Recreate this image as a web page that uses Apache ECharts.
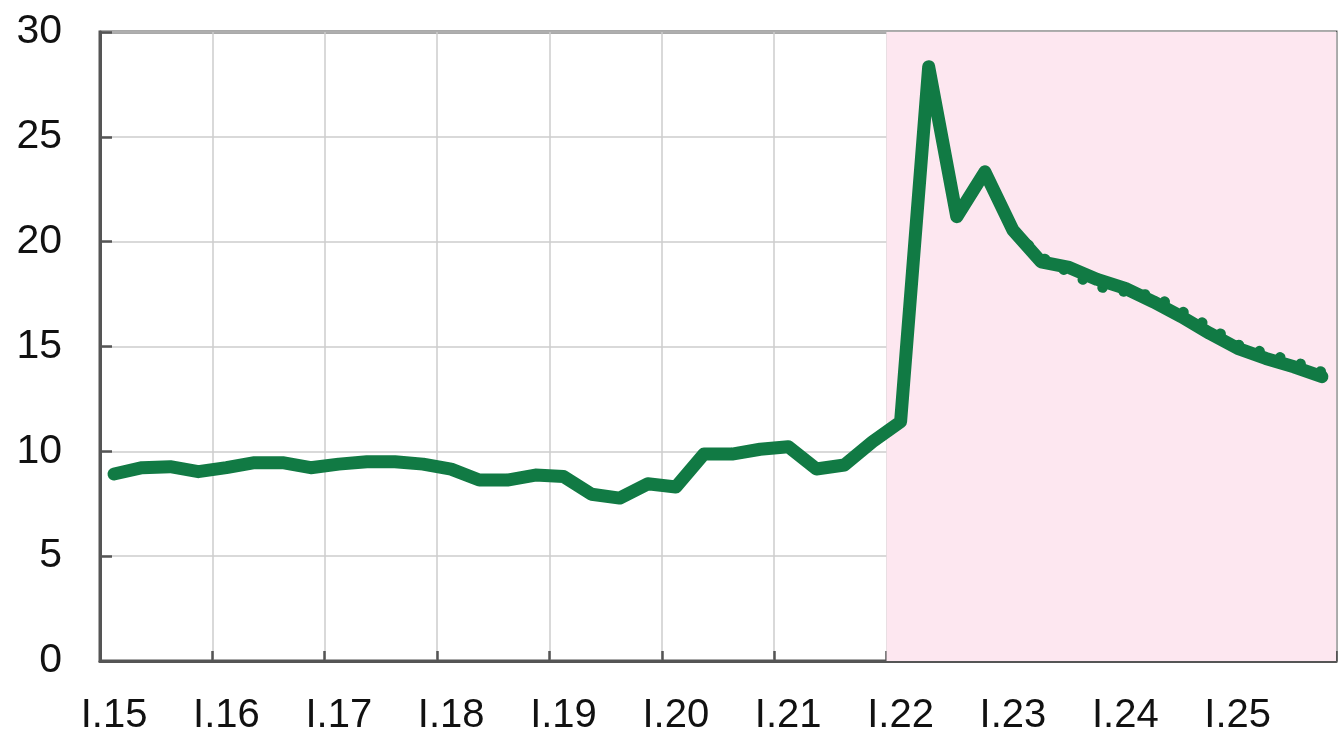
<!DOCTYPE html>
<html>
<head>
<meta charset="utf-8">
<script src="https://cdn.jsdelivr.net/npm/echarts@6/dist/echarts.min.js"></script>
<style>
html,body{margin:0;padding:0;background:#fff;}
#chart{width:1342px;height:733px;}
</style>
</head>
<body>
<div id="chart"></div>
<script>
// Quarterly categories (Roman numeral quarter . two-digit year)
const years = ['15','16','17','18','19','20','21','22','23','24','25'];
const quarters = ['I','II','III','IV'];
const categories = [];
years.forEach(y => quarters.forEach(q => categories.push(q + '.' + y)));

// Main series (solid line)
const actual = [
  8.92, 9.22, 9.27, 9.03,
  9.22, 9.46, 9.46, 9.22,
  9.39, 9.50, 9.50, 9.39,
  9.15, 8.63, 8.63, 8.87,
  8.80, 7.95, 7.77, 8.45,
  8.30, 9.87, 9.87, 10.10,
  10.22, 9.16, 9.35, 10.46,
  11.41, 28.34, 21.19, 23.33,
  20.55, 19.04, 18.77, 18.20,
  17.77, 17.13, 16.42, 15.63,
  14.91, 14.43, 14.03, 13.56
];

// Earlier projection (dotted line), from I.23 onward
const projection = [
  null, null, null, null,
  null, null, null, null,
  null, null, null, null,
  null, null, null, null,
  null, null, null, null,
  null, null, null, null,
  null, null, null, null,
  null, null, null, null,
  20.55, 19.30, 18.50, 17.85,
  17.60, 17.45, 16.70, 15.95,
  15.10, 14.70, 14.30, 13.80
];

// Shaded period: from the start of I.22 to the end of the axis (in quarter units)
const shadeFrom = 28;
const shadeTo = 44;

const yTicks = { min: 0, max: 30, interval: 5 };

const green = '#117a44';
const axisColor = '#555555';
const gridColor = '#cdcdcd';
const fontFamily = '"Liberation Sans", Arial, sans-serif';

const chart = echarts.init(document.getElementById('chart'), null, { renderer: 'canvas' });

chart.setOption({
  animation: false,
  backgroundColor: '#ffffff',
  grid: {
    left: 100, right: 6, top: 32, bottom: 72,
    containLabel: false, outerBoundsMode: 'none',
    show: true, borderColor: axisColor, borderWidth: 3, backgroundColor: 'transparent'
  },
  xAxis: [
    {
      type: 'category',
      data: categories,
      boundaryGap: true,
      axisLine: { show: true, lineStyle: { color: axisColor, width: 3 } },
      axisTick: { show: true, inside: true, length: 10, interval: 3, lineStyle: { color: axisColor, width: 2.5 } },
      axisLabel: {
        interval: 3, margin: 35, fontSize: 40, color: '#111', fontFamily: fontFamily
      },
      splitLine: { show: true, interval: 3, lineStyle: { color: gridColor, width: 1.5 } }
    },
    {
      type: 'value', min: 0, max: 44, show: false
    }
  ],
  yAxis: {
    type: 'value',
    min: yTicks.min, max: yTicks.max, interval: yTicks.interval,
    axisLine: { show: true, lineStyle: { color: axisColor, width: 3 } },
    axisTick: { show: true, inside: true, length: 12, lineStyle: { color: axisColor, width: 2.5 } },
    axisLabel: { margin: 38, fontSize: 41, color: '#111', fontFamily: fontFamily },
    splitLine: { show: true, lineStyle: { color: gridColor, width: 1.5 } }
  },
  series: [
    {
      name: 'shade',
      type: 'line',
      xAxisIndex: 1,
      data: [],
      silent: true,
      z: 0,
      markArea: {
        silent: true,
        itemStyle: { color: '#fde7f0' },
        data: [[{ xAxis: shadeFrom }, { xAxis: shadeTo }]]
      }
    },
    {
      name: 'projection',
      type: 'line',
      data: projection,
      showSymbol: false,
      connectNulls: false,
      z: 2,
      lineStyle: { color: green, width: 10, type: [0.5, 21], cap: 'round' }
    },
    {
      name: 'actual',
      type: 'line',
      data: actual,
      showSymbol: false,
      z: 3,
      lineStyle: { color: green, width: 13, cap: 'round', join: 'round' }
    }
  ]
});
</script>
</body>
</html>
